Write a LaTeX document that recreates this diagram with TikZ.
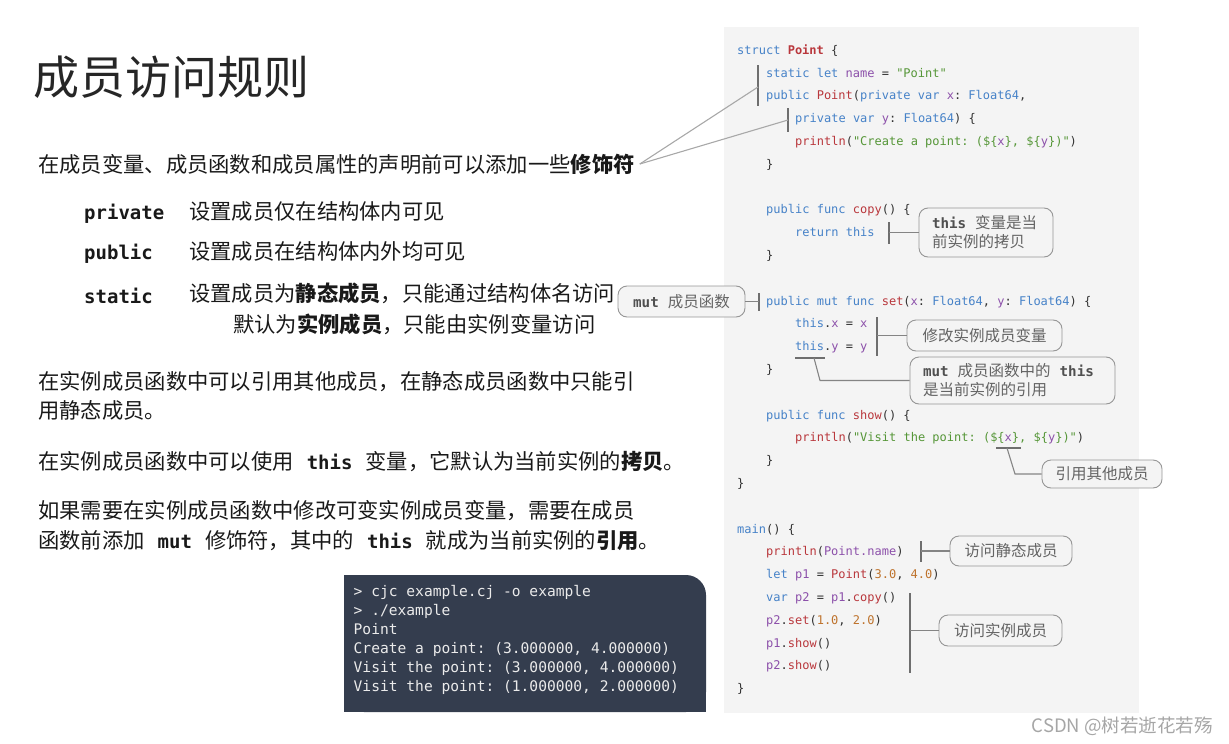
\documentclass[tikz,border=0pt]{standalone}
\usepackage{fontspec}
\setmainfont{Noto Sans CJK SC}
\setmonofont{DejaVu Sans Mono}
\definecolor{panel}{RGB}{244,244,244}
\definecolor{termc}{RGB}{52,61,78}
\definecolor{kwc}{RGB}{70,130,200}
\definecolor{fnc}{RGB}{185,55,60}
\definecolor{idc}{RGB}{140,80,170}
\definecolor{stc}{RGB}{85,150,55}
\definecolor{nmc}{RGB}{190,115,45}
\definecolor{punc}{RGB}{50,50,50}
\definecolor{barc}{RGB}{110,110,110}
\definecolor{notec}{RGB}{150,150,150}
\definecolor{notet}{RGB}{100,100,100}
\newcommand\ckw[1]{\textcolor{kwc}{#1}}
\newcommand\cfn[1]{\textcolor{fnc}{#1}}
\newcommand\cid[1]{\textcolor{idc}{#1}}
\newcommand\cst[1]{\textcolor{stc}{#1}}
\newcommand\cnum[1]{\textcolor{nmc}{#1}}
\newcommand\tb[1]{{\fontsize{19}{24}\selectfont\ttfamily\bfseries #1}}
\newcommand\tbs[1]{\hspace{13pt}\tb{#1}\hspace{13pt}}
\newcommand\nb[1]{{\fontsize{14.2}{19}\selectfont\ttfamily\bfseries\color{notet!80!black}#1}}
\begin{document}
\begin{tikzpicture}[x=1pt,y=-1pt,
		txt/.style={anchor=west,inner sep=0pt,font=\fontsize{21.3}{26}\selectfont,text=black!90},
		code/.style={anchor=base west,inner sep=0pt,font=\fontsize{12}{14}\selectfont\ttfamily,text=punc},
		term/.style={anchor=base west,inner sep=0pt,font=\fontsize{14.6}{17}\selectfont\ttfamily,text=white!92!black},
		note/.style={draw=notec,fill=panel,line width=0.9pt,rounded corners=9pt,text=notet,font=\fontsize{15.5}{19}\selectfont,inner sep=0pt},
		bar/.style={draw=barc,line width=2.4pt},
		lead/.style={draw=barc!85,line width=1.1pt}]
	\useasboundingbox (0,0) rectangle (1229,744);
	\def\codeln#1#2#3#4{\node[code] (#1) at ({737+29*#2},{54.3+22.8*#3}) {#4};}
	\def\termln#1#2#3{\node[term] (#1) at (353.5,{596+19*#2}) {#3};}
	% left side
	\node[txt,font=\fontsize{46}{50}\selectfont,text=black!85] (title) at (33,77) {成员访问规则};
	\node[txt] (t1) at (38,164) {在成员变量、成员函数和成员属性的声明前可以添加一些\textbf{修饰符}};
	\node[txt] (m1) at (84,214) {\tb{private}};
	\node[txt] (d1) at (189,211) {设置成员仅在结构体内可见};
	\node[txt] (m2) at (84,254) {\tb{public}};
	\node[txt] (d2) at (189,251) {设置成员在结构体内外均可见};
	\node[txt] (m3) at (84,296) {\tb{static}};
	\node[txt] (d3) at (189,293) {设置成员为\textbf{静态成员}，只能通过结构体名访问};
	\node[txt] (d4) at (233,324) {默认为\textbf{实例成员}，只能由实例变量访问};
	\node[txt] (p1a) at (38,382) {在实例成员函数中可以引用其他成员，在静态成员函数中只能引};
	\node[txt] (p1b) at (38,410) {用静态成员。};
	\node[txt] (p2) at (38,462) {在实例成员函数中可以使用\tbs{this}变量，它默认为当前实例的\textbf{拷贝}。};
	\node[txt] (p3a) at (38,511) {如果需要在实例成员函数中修改可变实例成员变量，需要在成员};
	\node[txt] (p3b) at (38,541) {函数前添加\tbs{mut}修饰符，其中的\tbs{this}就成为当前实例的\textbf{引用}。};
	% terminal
	\fill[termc,rounded corners=20pt] (344,575) rectangle (706,712);
	\fill[termc] (344,575) rectangle (660,712);
	\fill[termc] (344,620) rectangle (706,712);
	\termln{r0}{0}{> cjc example.cj -o example}
	\termln{r1}{1}{> ./example}
	\termln{r2}{2}{Point}
	\termln{r3}{3}{Create a point: (3.000000, 4.000000)}
	\termln{r4}{4}{Visit the point: (3.000000, 4.000000)}
	\termln{r5}{5}{Visit the point: (1.000000, 2.000000)}
	% code panel
	\fill[panel] (724,27) rectangle (1139,713);
	\codeln{c0}{0}{0}{\ckw{struct} \textbf{\cfn{Point}} \{}
	\codeln{c1}{1}{1}{\ckw{static let} \cid{name} = \cst{"Point"}}
	\codeln{c2}{1}{2}{\ckw{public} \cfn{Point}(\ckw{private var} \cid{x}: \ckw{Float64},}
	\codeln{c3}{2}{3}{\ckw{private var} \cid{y}: \ckw{Float64}) \{}
	\codeln{c4}{2}{4}{\cfn{println}(\cst{"Create a point: (\$\{}\cid{x}\cst{\}, \$\{}\cid{y}\cst{\})"})}
	\codeln{c5}{1}{5}{\}}
	\codeln{c7}{1}{7}{\ckw{public func} \cfn{copy}() \{}
	\codeln{c8}{2}{8}{\ckw{return this}}
	\codeln{c9}{1}{9}{\}}
	\codeln{c11}{1}{11}{\ckw{public mut func} \cfn{set}(\cid{x}: \ckw{Float64}, \cid{y}: \ckw{Float64}) \{}
	\codeln{c12}{2}{12}{\ckw{this}.\cid{x} = \cid{x}}
	\codeln{c13}{2}{13}{\ckw{this}.\cid{y} = \cid{y}}
	\codeln{c14}{1}{14}{\}}
	\codeln{c16}{1}{16}{\ckw{public func} \cfn{show}() \{}
	\codeln{c17}{2}{17}{\cfn{println}(\cst{"Visit the point: (\$\{}\cid{x}\cst{\}, \$\{}\cid{y}\cst{\})"})}
	\codeln{c18}{1}{18}{\}}
	\codeln{c19}{0}{19}{\}}
	\codeln{c21}{0}{21}{\ckw{main}() \{}
	\codeln{c22}{1}{22}{\cfn{println}(\cid{Point.name})}
	\codeln{c23}{1}{23}{\ckw{let} \cid{p1} = \cfn{Point}(\cnum{3.0}, \cnum{4.0})}
	\codeln{c24}{1}{24}{\ckw{var} \cid{p2} = \cid{p1}.\cfn{copy}()}
	\codeln{c25}{1}{25}{\cid{p2}.\cfn{set}(\cnum{1.0}, \cnum{2.0})}
	\codeln{c26}{1}{26}{\cid{p1}.\cfn{show}()}
	\codeln{c27}{1}{27}{\cid{p2}.\cfn{show}()}
	\codeln{c28}{0}{28}{\}}
	% notes
	\node[note,minimum width=134pt,minimum height=49pt,text width=108pt,align=left] (ncopy) at (986,232.5) {\nb{this}\hspace{9pt}变量是当\\前实例的拷贝};
	\node[note,minimum width=127pt,minimum height=31pt] (nmut) at (681.5,301.5) {\nb{mut}\hspace{9pt}成员函数};
	\node[note,minimum width=155pt,minimum height=31pt] (nxy) at (984.5,335.5) {修改实例成员变量};
	\node[note,minimum width=205pt,minimum height=47pt,text width=179pt,align=left] (nref) at (1012.5,380.5) {\nb{mut}\hspace{9pt}成员函数中的\hspace{9pt}\nb{this}\\是当前实例的引用};
	\node[note,minimum width=120pt,minimum height=28pt] (nother) at (1102,474) {引用其他成员};
	\node[note,minimum width=122pt,minimum height=30pt] (nstatic) at (1011,551) {访问静态成员};
	\node[note,minimum width=123pt,minimum height=31pt] (ninst) at (1000.5,630.5) {访问实例成员};
	% bars and leaders
	\coordinate (mod) at ([xshift=5pt]t1.east);
	\draw[bar] (758,65) coordinate (b1a) -- (758,106) coordinate (b1b);
	\draw[bar] (788,108) coordinate (b2a) -- (788,132) coordinate (b2b);
	\coordinate (b1) at (758,87);
	\coordinate (b2) at (788,120);
	\draw[lead,draw=barc!60] (mod) -- (b1);
	\draw[lead,draw=barc!60] (mod) -- (b2);
	\draw[bar] (889,222) -- (889,244);
	\coordinate (bcopy) at (889,232.5);
	\draw[lead] (bcopy) -- (bcopy -| ncopy.west);
	\draw[bar] (759,293) -- (759,311);
	\coordinate (bmut) at (759,301.5);
	\draw[lead] (nmut.east) -- (bmut);
	\draw[bar] (877,317) -- (877,356);
	\coordinate (bxy) at (877,335.5);
	\draw[lead] (bxy) -- (bxy -| nxy.west);
	\draw[bar] (795,358) -- (825,358);
	\coordinate (uthis) at (814,358);
	\draw[lead] (uthis) -- (820,380.5) -- (nref.west);
	\draw[bar] (996,448) -- (1021,448);
	\coordinate (ux) at (1007,448);
	\draw[lead] (ux) -- (1015,474) -- (nother.west);
	\draw[bar] (921,541) -- (921,562);
	\coordinate (bname) at (921,551);
	\draw[lead] (bname) -- (nstatic.west);
	\draw[bar] (910,593) -- (910,673);
	\coordinate (binst) at (910,630.5);
	\draw[lead] (binst) -- (ninst.west);
	% watermark
	\node[anchor=east,inner sep=0pt,font=\fontsize{18.5}{22}\selectfont,text=black!35] (csdn) at (1213,726) {CSDN @树若逝花若殇};
\end{tikzpicture}
\end{document}
